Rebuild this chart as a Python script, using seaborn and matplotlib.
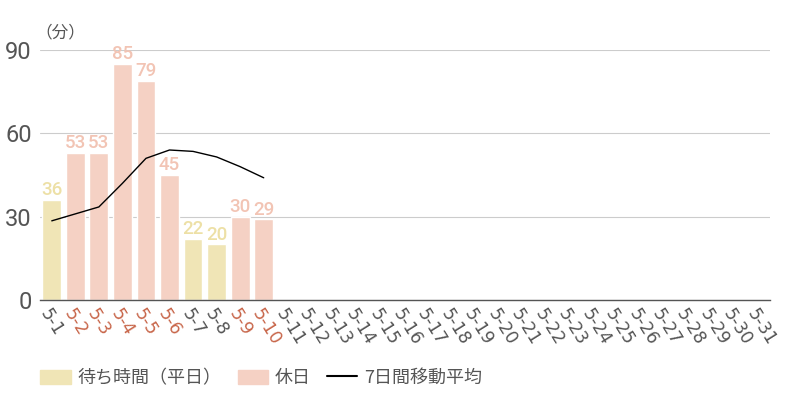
import numpy as np
import pandas as pd
import matplotlib
matplotlib.use('Agg')
import matplotlib.pyplot as plt
import matplotlib.patches as mpatches
import matplotlib.lines as mlines
import seaborn as sns

# Data
DATES = [f'5-{d}' for d in range(1, 32)]
WAIT_MIN = [36, 53, 53, 85, 79, 45, 22, 20, 30, 29]
IS_HOLIDAY = [False, True, True, True, True, True, False, False, True, True]
MA7 = [28.5, 31, 33.5, 42, 51, 54, 53.5, 51.5, 48, 44]
Y_TICKS = [0, 30, 60, 90]

COLORS = {
    'weekday': '#f0e5b6',
    'holiday': '#f5d1c4',
    'weekday_txt': '#ede0a6',
    'holiday_txt': '#f2c4b4',
    'tick_hol': '#c8664a',
    'tick': '#555555',
    'grid': '#cccccc',
}

sns.set_theme(style='white')
plt.rcParams['font.family'] = ['Noto Sans CJK JP', 'DejaVu Sans']

df = pd.DataFrame({
    'date': DATES[:len(WAIT_MIN)],
    'wait': WAIT_MIN,
    'kind': ['休日' if h else '平日' for h in IS_HOLIDAY],
})

fig = plt.figure(figsize=(8, 4), dpi=100)
ax = fig.add_axes([0.05, 0.25, 0.9125, 0.625])

sns.barplot(data=df, x='date', y='wait', hue='kind', order=DATES,
            hue_order=['平日', '休日'], dodge=False, width=0.8,
            palette={'平日': COLORS['weekday'], '休日': COLORS['holiday']},
            legend=False, ax=ax, saturation=1)

sns.lineplot(x=list(range(len(MA7))), y=MA7, color='black', linewidth=1, ax=ax)

# value labels
for i, (v, h) in enumerate(zip(WAIT_MIN, IS_HOLIDAY)):
    ax.text(i, v + 0.3, str(v), ha='center', va='bottom', fontsize=13.5,
            fontweight='medium', family='Roboto',
            color=COLORS['holiday_txt'] if h else COLORS['weekday_txt'])

ax.set_xlim(-0.5, len(DATES) - 0.5)
ax.set_ylim(0, 90)
ax.set_yticks(Y_TICKS)
ax.set_yticklabels([str(t) for t in Y_TICKS], fontsize=17, color=COLORS['tick'],
                   family='Roboto')
ax.tick_params(axis='y', length=0, pad=6)
ax.yaxis.grid(True, color=COLORS['grid'], linewidth=0.8)
ax.set_axisbelow(True)
for s in ['top', 'right', 'left']:
    ax.spines[s].set_visible(False)
ax.spines['bottom'].set_color('#555555')
ax.spines['bottom'].set_linewidth(1)
ax.set_xlabel('')
ax.set_ylabel('')

ax.set_xticks(range(len(DATES)))
ax.set_xticklabels(DATES, rotation=-58, ha='left', rotation_mode='anchor',
                   fontsize=12.5, family='DejaVu Sans')
ax.tick_params(axis='x', length=0, pad=4)
for i, lab in enumerate(ax.get_xticklabels()):
    hol = i < len(IS_HOLIDAY) and IS_HOLIDAY[i]
    lab.set_color(COLORS['tick_hol'] if hol else COLORS['tick'])

fig.text(0.044, 0.918, '（分）', fontsize=12, color=COLORS['tick'], ha='left', va='center')

handles = [
    mpatches.Patch(color=COLORS['weekday'], label='待ち時間（平日）'),
    mpatches.Patch(color=COLORS['holiday'], label='休日'),
    mlines.Line2D([], [], color='black', linewidth=1.5, label='7日間移動平均'),
]
leg = fig.legend(handles=handles, loc='center left', bbox_to_anchor=(0.03, 0.055),
                 ncol=3, frameon=False, fontsize=13, handlelength=1.7,
                 handleheight=0.85, handletextpad=0.35, columnspacing=0.9)
for t in leg.get_texts():
    t.set_color(COLORS['tick'])

fig.savefig('out.png', dpi=100)
